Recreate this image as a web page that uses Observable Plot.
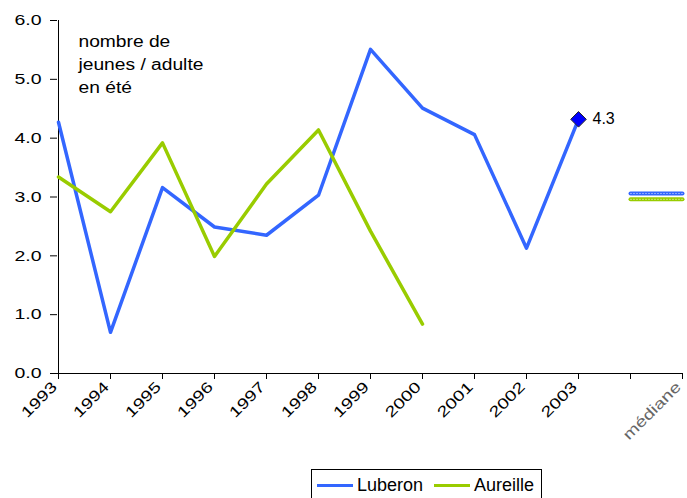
<!DOCTYPE html>
<html>
<head>
<meta charset="utf-8">
<script src="https://cdn.jsdelivr.net/npm/d3@7"></script>
<script src="https://cdn.jsdelivr.net/npm/@observablehq/plot@0.6"></script>
<style>
  body { margin: 0; background: #fff; font-family: "Liberation Sans", Arial, sans-serif; }
  #wrap { position: relative; width: 687px; height: 498px; overflow: hidden; }
  #legend { position: absolute; left: 311px; top: 469px; width: 231px; height: 34px;
    border: 1px solid #000; box-sizing: border-box; font-size: 18px; color: #000; }
  .item { position: absolute; top: 5px; display: flex; align-items: center; }
  .swatch { display: inline-block; width: 36px; height: 3.5px; margin-right: 4px; }
</style>
</head>
<body>
<div id="wrap"><div id="chart"></div>
<div id="legend">
  <div class="item" style="left:5px"><span class="swatch" style="background:#3366ff"></span>Luberon</div>
  <div class="item" style="left:122px"><span class="swatch" style="background:#99cc00"></span>Aureille</div>
</div>
</div>
<script>
const categories = ["1993","1994","1995","1996","1997","1998","1999","2000","2001","2002","2003"," ","médiane"];
const years = ["1993","1994","1995","1996","1997","1998","1999","2000","2001","2002","2003"];
const luberon = [4.27, 0.70, 3.16, 2.49, 2.35, 3.03, 5.51, 4.51, 4.06, 2.13, 4.32];
const aureille = [3.34, 2.75, 3.92, 1.99, 3.22, 4.14, 2.42, 0.84, null, null, null];
const medianLuberon = 3.06;
const medianAureille = 2.96;
const highlightYear = "2003";
const highlightValue = 4.32;
const highlightLabel = "4.3";
const yTicks = [0, 1, 2, 3, 4, 5, 6];
const annotation = ["nombre de", "jeunes / adulte", "en été"];

const lubData = years.map((x, i) => ({x, y: luberon[i]}));
const aurData = years.map((x, i) => ({x, y: aureille[i]})).filter(d => d.y != null);
const medL = [{x: " ", y: medianLuberon}, {x: "médiane", y: medianLuberon}];
const medA = [{x: " ", y: medianAureille}, {x: "médiane", y: medianAureille}];

const blue = "#3366ff", green = "#99cc00";

const chart = Plot.plot({
  width: 687,
  height: 465,
  marginLeft: 57,
  marginRight: 4,
  marginTop: 20,
  marginBottom: 92,
  style: {fontFamily: "'Liberation Sans', Arial, sans-serif", fontSize: "15px", color: "#000", background: "#fff"},
  x: {type: "point", domain: categories, padding: 0},
  y: {domain: [0, 6]},
  marks: [
    Plot.axisY({ticks: yTicks, tickFormat: d => d.toFixed(1), tickSize: 7, tickPadding: 9, label: null, stroke: "#000", fontSize: 15}),
    Plot.axisX({tickSize: 6, tickFormat: () => "", label: null, stroke: "#000"}),
    Plot.axisX({tickRotate: -45, tickSize: 0, tickPadding: 11, dx: -4, label: null, fontSize: 15,
      tickFormat: d => d.trim(), fill: d => d === "médiane" ? "#666" : "#000"}),
    Plot.ruleX([categories[0]], {y1: 0, y2: 6, stroke: "#000", strokeWidth: 1}),
    Plot.ruleY([0], {stroke: "#000", strokeWidth: 1}),
    Plot.line(medL, {x: "x", y: "y", stroke: blue, strokeWidth: 4}),
    Plot.line(medL, {x: "x", y: "y", stroke: "#fff", strokeOpacity: 0.5, strokeWidth: 1, strokeDasharray: "1,2"}),
    Plot.line(medA, {x: "x", y: "y", stroke: green, strokeWidth: 4}),
    Plot.line(medA, {x: "x", y: "y", stroke: "#fff", strokeOpacity: 0.5, strokeWidth: 1, strokeDasharray: "1,2"}),
    Plot.line(lubData, {x: "x", y: "y", stroke: blue, strokeWidth: 3.5}),
    Plot.line(aurData, {x: "x", y: "y", stroke: green, strokeWidth: 3.5}),
    Plot.dot([{x: highlightYear, y: highlightValue}], {x: "x", y: "y", symbol: "diamond2", r: 7, fill: "#0000ff", stroke: "#222", strokeWidth: 1}),
    Plot.text([{x: highlightYear, y: highlightValue, t: highlightLabel}], {x: "x", y: "y", text: "t", dx: 14, textAnchor: "start", fontSize: 16, fill: "#000"}),
    Plot.text([annotation.join("\n")], {frameAnchor: "top-left", dx: 21, dy: 10, text: d => d, lineHeight: 1.45, fontSize: 16, textAnchor: "start", fill: "#000"})
  ]
});
document.getElementById("chart").appendChild(chart);

// widen glyphs horizontally to match the reference's stretched lettering
function stretch(nodes, factor) {
  nodes.forEach(n => {
    const len = n.getComputedTextLength();
    if (len > 0) {
      n.setAttribute("textLength", (len * factor).toFixed(1));
      n.setAttribute("lengthAdjust", "spacingAndGlyphs");
    }
  });
}
const svg = d3.select(chart);
stretch(svg.selectAll('g[aria-label="y-axis tick label"] text').nodes(), 1.3);
stretch(svg.selectAll('g[aria-label="x-axis tick label"] text').nodes(), 1.3);
stretch(svg.selectAll('g[aria-label="text"] tspan').nodes(), 1.2);
</script>
</body>
</html>
